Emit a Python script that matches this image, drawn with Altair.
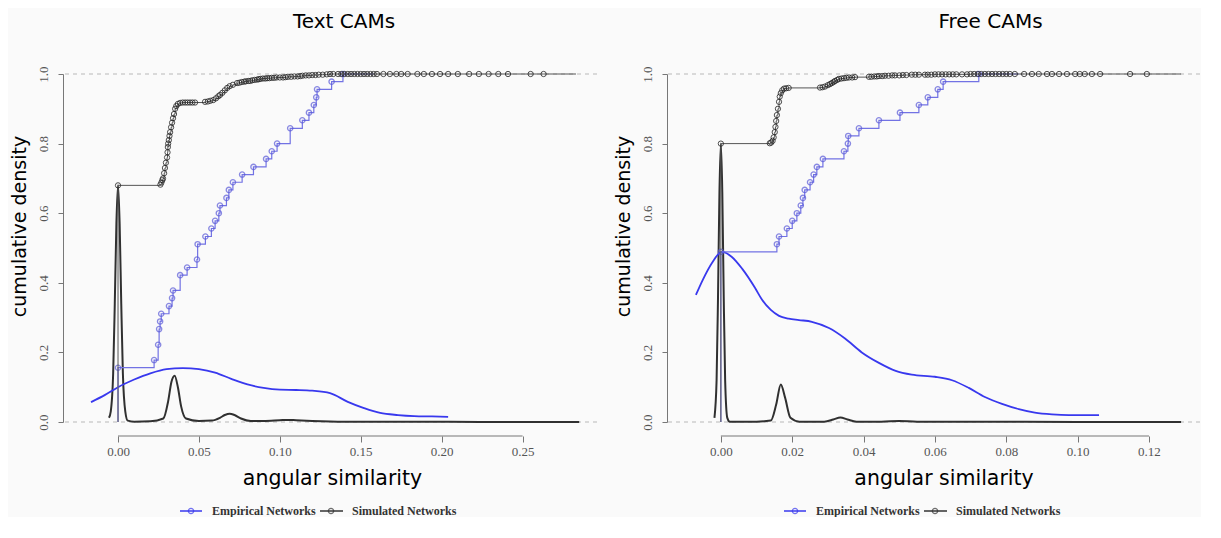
import altair as alt
import pandas as pd

# ---------------- shared ----------------
series_names = ["Empirical Networks", "Simulated Networks"]
y_ticks = [0.0, 0.2, 0.4, 0.6, 0.8, 1.0]
x_title = "angular similarity"
y_title = "cumulative density"

# ---------------- Text CAMs ----------------
text_title = "Text CAMs"
text_x_domain = [-0.034, 0.296]
text_x_ticks = [0.0, 0.05, 0.10, 0.15, 0.20, 0.25]

text_emp_points = [
    (0.0, 0.156), (0.0223, 0.178), (0.0248, 0.222), (0.0254, 0.267), (0.026, 0.289),
    (0.0267, 0.311), (0.0315, 0.333), (0.0334, 0.356), (0.034, 0.378), (0.0384, 0.422),
    (0.0427, 0.444), (0.0488, 0.467), (0.0492, 0.511), (0.054, 0.533), (0.0577, 0.556),
    (0.060, 0.578), (0.0623, 0.600), (0.063, 0.622), (0.067, 0.644), (0.0685, 0.667),
    (0.071, 0.689), (0.0767, 0.711), (0.0837, 0.733), (0.0915, 0.756), (0.095, 0.778),
    (0.0983, 0.800), (0.1064, 0.844), (0.1139, 0.867), (0.118, 0.889), (0.121, 0.911),
    (0.1225, 0.933), (0.123, 0.956), (0.132, 0.978), (0.139, 1.0),
]
text_emp_line_end = 0.158

text_sim_points = [
    (0.0, 0.68), (0.0262, 0.682), (0.0268, 0.688), (0.0274, 0.695), (0.0278, 0.70),
    (0.0285, 0.715), (0.029, 0.73), (0.0296, 0.745), (0.0303, 0.76), (0.0306, 0.775),
    (0.0308, 0.79), (0.031, 0.80), (0.0314, 0.81), (0.0318, 0.822), (0.0322, 0.833),
    (0.0328, 0.847), (0.0334, 0.86), (0.034, 0.873), (0.0346, 0.885), (0.0353, 0.90),
    (0.036, 0.908), (0.037, 0.914), (0.0384, 0.917), (0.040, 0.918), (0.0415, 0.918),
    (0.043, 0.918), (0.0445, 0.918), (0.046, 0.918), (0.0476, 0.918), (0.0538, 0.92),
    (0.0555, 0.921), (0.057, 0.923), (0.0588, 0.925), (0.0605, 0.93), (0.062, 0.936),
    (0.0631, 0.94), (0.0645, 0.946), (0.066, 0.953), (0.0675, 0.96), (0.069, 0.965),
    (0.071, 0.969), (0.0736, 0.974), (0.075, 0.975), (0.0765, 0.977), (0.078, 0.978),
    (0.079, 0.979), (0.0805, 0.98), (0.0817, 0.98), (0.083, 0.982), (0.0845, 0.983),
    (0.086, 0.984), (0.087, 0.985), (0.088, 0.986), (0.0895, 0.987), (0.091, 0.987),
    (0.0922, 0.988), (0.0935, 0.988), (0.095, 0.989), (0.0965, 0.989), (0.098, 0.99),
    (0.100, 0.99), (0.102, 0.99), (0.1035, 0.991), (0.105, 0.992), (0.107, 0.992),
    (0.109, 0.993), (0.111, 0.993), (0.1126, 0.994), (0.114, 0.995), (0.116, 0.996),
    (0.118, 0.996), (0.120, 0.997), (0.122, 0.997), (0.124, 0.998), (0.1265, 0.998),
    (0.129, 0.999), (0.131, 1.0), (0.133, 1.0), (0.136, 1.0), (0.138, 1.0),
    (0.140, 1.0), (0.142, 1.0), (0.144, 1.0), (0.146, 1.0), (0.148, 1.0),
    (0.150, 1.0), (0.152, 1.0), (0.154, 1.0), (0.156, 1.0), (0.158, 1.0),
    (0.160, 1.0), (0.164, 1.0), (0.168, 1.0), (0.172, 1.0), (0.175, 1.0),
    (0.179, 1.0), (0.185, 1.0), (0.189, 1.0), (0.194, 1.0), (0.199, 1.0),
    (0.204, 1.0), (0.210, 1.0), (0.217, 1.0), (0.223, 1.0), (0.229, 1.0),
    (0.235, 1.0), (0.241, 1.0), (0.255, 1.0), (0.263, 1.0),
]
text_sim_line_end = 0.283

text_emp_density = [
    (-0.0167, 0.057), (-0.008, 0.078), (0.0, 0.100), (0.01, 0.122), (0.02, 0.140),
    (0.03, 0.152), (0.04, 0.155), (0.05, 0.152), (0.06, 0.142), (0.07, 0.124),
    (0.08, 0.108), (0.09, 0.098), (0.10, 0.093), (0.11, 0.092), (0.12, 0.090),
    (0.131, 0.083), (0.142, 0.058), (0.152, 0.040), (0.162, 0.026), (0.173, 0.020),
    (0.183, 0.017), (0.194, 0.016), (0.204, 0.015),
]
text_sim_density = [
    (-0.0056, 0.012), (-0.0045, 0.03), (-0.003, 0.14), (-0.002, 0.34), (-0.001, 0.57),
    (0.0, 0.68), (0.001, 0.57), (0.002, 0.34), (0.003, 0.14), (0.0045, 0.03),
    (0.006, 0.004), (0.01, 0.001), (0.02, 0.002), (0.028, 0.01), (0.031, 0.06),
    (0.033, 0.115), (0.035, 0.133), (0.037, 0.10), (0.039, 0.045), (0.042, 0.01),
    (0.05, 0.003), (0.058, 0.004), (0.063, 0.012), (0.066, 0.020), (0.069, 0.024),
    (0.072, 0.020), (0.076, 0.010), (0.082, 0.003), (0.09, 0.003), (0.10, 0.005),
    (0.105, 0.006), (0.11, 0.005), (0.12, 0.003), (0.14, 0.001), (0.18, 0.001),
    (0.23, 0.0), (0.285, 0.0),
]

# ---------------- Free CAMs ----------------
free_title = "Free CAMs"
free_x_domain = [-0.0151, 0.1343]
free_x_ticks = [0.0, 0.02, 0.04, 0.06, 0.08, 0.10, 0.12]

free_emp_points = [
    (0.0, 0.489), (0.0157, 0.511), (0.0163, 0.533), (0.0185, 0.556), (0.020, 0.578),
    (0.0213, 0.600), (0.0224, 0.622), (0.023, 0.644), (0.0235, 0.667), (0.025, 0.689),
    (0.026, 0.711), (0.0269, 0.733), (0.0286, 0.756), (0.0345, 0.778), (0.0356, 0.800),
    (0.0357, 0.822), (0.0387, 0.844), (0.0443, 0.867), (0.0502, 0.889), (0.0555, 0.911),
    (0.058, 0.933), (0.0608, 0.956), (0.0623, 0.978), (0.0723, 1.0),
]
free_emp_line_end = 0.0835

free_sim_points = [
    (0.0, 0.80), (0.0137, 0.801), (0.0141, 0.803), (0.0145, 0.808), (0.0148, 0.818),
    (0.0151, 0.833), (0.0153, 0.848), (0.0155, 0.865), (0.0157, 0.882), (0.016, 0.90),
    (0.0163, 0.92), (0.0165, 0.935), (0.0168, 0.945), (0.0172, 0.953), (0.0177, 0.958),
    (0.0183, 0.959), (0.019, 0.96), (0.0278, 0.961), (0.0285, 0.962), (0.0292, 0.964),
    (0.030, 0.968), (0.0306, 0.971), (0.0311, 0.974), (0.0316, 0.977), (0.032, 0.98),
    (0.0326, 0.983), (0.0331, 0.986), (0.0338, 0.987), (0.0345, 0.988), (0.0352, 0.989),
    (0.0359, 0.99), (0.0368, 0.99), (0.0376, 0.991), (0.0415, 0.992), (0.0422, 0.992),
    (0.043, 0.993), (0.0437, 0.993), (0.0443, 0.994), (0.0452, 0.994), (0.046, 0.995),
    (0.047, 0.995), (0.048, 0.996), (0.0488, 0.996), (0.050, 0.996), (0.051, 0.997),
    (0.052, 0.997), (0.0535, 0.998), (0.0545, 0.998), (0.0555, 0.998), (0.0572, 0.998),
    (0.058, 0.998), (0.059, 0.998), (0.060, 0.999), (0.061, 0.999), (0.062, 0.999),
    (0.063, 0.999), (0.064, 0.999), (0.065, 0.999), (0.066, 0.999), (0.0676, 0.999),
    (0.069, 0.999), (0.070, 1.0), (0.071, 1.0), (0.072, 1.0), (0.073, 1.0),
    (0.074, 1.0), (0.075, 1.0), (0.076, 1.0), (0.077, 1.0), (0.078, 1.0),
    (0.079, 1.0), (0.080, 1.0), (0.081, 1.0), (0.0824, 1.0), (0.085, 1.0),
    (0.0872, 1.0), (0.0891, 1.0), (0.0914, 1.0), (0.0928, 1.0), (0.0948, 1.0),
    (0.097, 1.0), (0.0993, 1.0), (0.1006, 1.0), (0.102, 1.0), (0.104, 1.0),
    (0.1063, 1.0), (0.1147, 1.0), (0.1194, 1.0),
]
free_sim_line_end = 0.129

free_emp_density = [
    (-0.007, 0.365), (-0.005, 0.41), (-0.0025, 0.457), (0.0003, 0.489), (0.003, 0.475),
    (0.006, 0.44), (0.0096, 0.385), (0.0115, 0.352), (0.014, 0.322), (0.0163, 0.305),
    (0.019, 0.297), (0.0219, 0.293), (0.0255, 0.288), (0.0303, 0.27), (0.0348, 0.24),
    (0.0395, 0.20), (0.0443, 0.17), (0.049, 0.147), (0.0535, 0.136), (0.060, 0.130),
    (0.0648, 0.120), (0.0695, 0.098), (0.074, 0.072), (0.0788, 0.052), (0.0835, 0.037),
    (0.088, 0.027), (0.0928, 0.022), (0.0975, 0.020), (0.106, 0.020),
]
free_sim_density = [
    (-0.0018, 0.012), (-0.0012, 0.12), (-0.0008, 0.36), (-0.0004, 0.66), (0.0, 0.80),
    (0.0004, 0.66), (0.0008, 0.36), (0.0012, 0.12), (0.0018, 0.012), (0.0025, 0.001),
    (0.01, 0.001), (0.014, 0.004), (0.0155, 0.05), (0.0168, 0.108), (0.018, 0.07),
    (0.0195, 0.012), (0.022, 0.001), (0.029, 0.001), (0.0315, 0.007), (0.0335, 0.013),
    (0.0355, 0.007), (0.038, 0.001), (0.045, 0.001), (0.05, 0.003), (0.055, 0.001),
    (0.07, 0.001), (0.10, 0.0), (0.129, 0.0),
]

# ---------------- styling ----------------
H = 348
BLUE_DENS = "#3838ee"
BLUE_ECDF = "#7272e4"
BLUE_PT = "#5a5ad8"
BLACK_DENS = "#303030"
BLACK_ECDF = "#555555"
BLACK_PT = "#222222"


def to_df(points):
    return pd.DataFrame({"x": [p[0] for p in points],
                         "y": [p[1] for p in points],
                         "i": list(range(len(points)))})


def make_panel(title, title_dx, x_title_dx, x_domain, x_ticks, width, emp_pts, emp_end,
               sim_pts, sim_end, emp_dens, sim_dens):
    xs = alt.Scale(domain=x_domain, nice=False, zero=False)
    ys = alt.Scale(domain=[0, 1], nice=False, zero=False)
    xaxis = alt.Axis(values=x_ticks, format=".2f", domain=False, offset=14, tickSize=6,
                     tickColor="#777777", labelFont="Liberation Serif", labelFontSize=13,
                     labelColor="#555555", labelPadding=3, title=x_title,
                     titleFont="DejaVu Sans", titleFontSize=20.5, titleFontWeight="normal",
                     titleColor="#000000", titlePadding=10, titleX=width / 2 + x_title_dx,
                     grid=False)
    yaxis = alt.Axis(values=y_ticks, format=".1f", domain=True, domainColor="#777777",
                     tickSize=5, tickColor="#777777", labelAngle=270, labelAlign="center",
                     labelBaseline="bottom", labelFont="Liberation Serif", labelFontSize=13,
                     labelColor="#555555", labelPadding=8, title=y_title,
                     titleFont="DejaVu Sans", titleFontSize=19, titleFontWeight="normal",
                     titleColor="#000000", titleX=-44, titleY=152, titleBaseline="middle",
                     grid=False)

    def X():
        return alt.X("x:Q", scale=xs, axis=xaxis)

    def Y():
        return alt.Y("y:Q", scale=ys, axis=yaxis)

    refs = alt.Chart(pd.DataFrame({"y": [0.0, 1.0]})).mark_rule(
        color="#b8b8b8", strokeDash=[4, 4], strokeWidth=1
    ).encode(y=Y())

    sim_d = alt.Chart(to_df(sim_dens)).mark_line(
        color=BLACK_DENS, strokeWidth=2, interpolate="monotone"
    ).encode(x=X(), y=Y(), order="i:Q")

    emp_d = alt.Chart(to_df(emp_dens)).mark_line(
        color=BLUE_DENS, strokeWidth=1.8, interpolate="monotone"
    ).encode(x=X(), y=Y(), order="i:Q")

    emp_line_pts = [(emp_pts[0][0], 0.0)] + emp_pts + [(emp_end, emp_pts[-1][1])]
    emp_l = alt.Chart(to_df(emp_line_pts)).mark_line(
        color=BLUE_ECDF, strokeWidth=1.2, interpolate="step-after"
    ).encode(x=X(), y=Y(), order="i:Q")
    emp_p = alt.Chart(to_df(emp_pts)).mark_point(
        shape="circle", filled=False, color=BLUE_PT, size=28, strokeWidth=1.3
    ).encode(x=X(), y=Y())

    sim_line_pts = [(sim_pts[0][0], 0.0)] + sim_pts + [(sim_end, sim_pts[-1][1])]
    sim_l = alt.Chart(to_df(sim_line_pts)).mark_line(
        color=BLACK_ECDF, strokeWidth=1, interpolate="step-after"
    ).encode(x=X(), y=Y(), order="i:Q")
    sim_p = alt.Chart(to_df(sim_pts)).mark_point(
        shape="circle", filled=False, color=BLACK_PT, size=28, strokeWidth=1, opacity=0.8
    ).encode(x=X(), y=Y())

    xdom = alt.Chart(pd.DataFrame({"x": [x_ticks[0]], "x2": [x_ticks[-1]]})).mark_rule(
        color="#777777", strokeWidth=1
    ).encode(x=X(), x2="x2:Q", y=alt.value(H + 14))

    one = pd.DataFrame({"a": [0]})
    ly = H + 89
    leg = [
        alt.Chart(one).mark_rule(color=BLUE_DENS, strokeWidth=1.5).encode(
            x=alt.value(117), x2=alt.value(139), y=alt.value(ly)),
        alt.Chart(one).mark_point(shape="circle", filled=False, color=BLUE_DENS, size=28,
                                  strokeWidth=1.3).encode(x=alt.value(128), y=alt.value(ly)),
        alt.Chart(one).mark_text(text=series_names[0], align="left", baseline="middle",
                                 font="Liberation Serif", fontSize=12, fontWeight="bold",
                                 color="#333333").encode(x=alt.value(149), y=alt.value(ly)),
        alt.Chart(one).mark_rule(color="#333333", strokeWidth=1.5).encode(
            x=alt.value(257), x2=alt.value(280), y=alt.value(ly)),
        alt.Chart(one).mark_point(shape="circle", filled=False, color="#333333", size=28,
                                  strokeWidth=1.3).encode(x=alt.value(268), y=alt.value(ly)),
        alt.Chart(one).mark_text(text=series_names[1], align="left", baseline="middle",
                                 font="Liberation Serif", fontSize=12, fontWeight="bold",
                                 color="#333333").encode(x=alt.value(289), y=alt.value(ly)),
    ]

    return alt.layer(refs, sim_d, emp_d, emp_l, emp_p, sim_l, sim_p, xdom, *leg).properties(
        width=width, height=H,
        title=alt.TitleParams(title, font="DejaVu Sans", fontSize=20, fontWeight="normal",
                              color="#000000", anchor="middle", frame="group", offset=34,
                              dx=title_dx),
    )


left = make_panel(text_title, 14, 2, text_x_domain, text_x_ticks, 534, text_emp_points,
                  text_emp_line_end, text_sim_points, text_sim_line_end,
                  text_emp_density, text_sim_density)
right = make_panel(free_title, 57, 10, free_x_domain, free_x_ticks, 533, free_emp_points,
                   free_emp_line_end, free_sim_points, free_sim_line_end,
                   free_emp_density, free_sim_density)

chart = alt.hconcat(left, right, spacing=16).properties(
    background="#fafafa",
    padding={"left": 2, "top": 3, "right": 0, "bottom": 0},
).configure_view(stroke=None)

chart.save("out.html", embed_options={"renderer": "svg", "actions": False})
